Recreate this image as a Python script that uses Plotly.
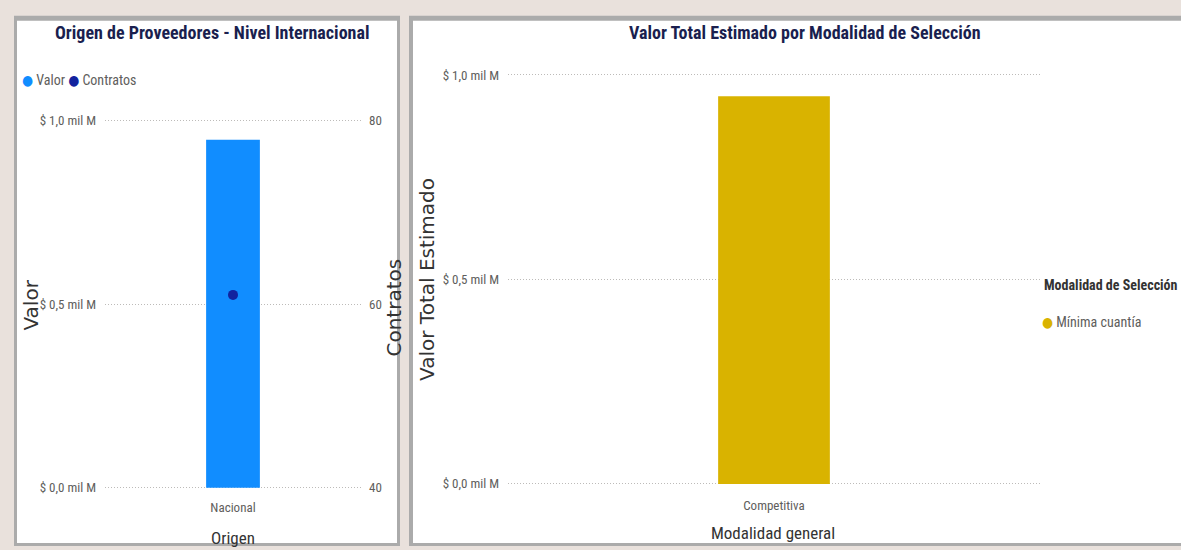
import plotly.graph_objects as go

W, H = 1181, 550

# ---------------- data ----------------
origen_cats = ["Nacional"]
origen_valor = [0.947e9]
origen_contratos = [61]

modalidad_cats = ["Competitiva"]
modalidad_valor = [0.948e9]
modalidad_series = ["Mínima cuantía"]

valor_tickvals = [0, 0.5e9, 1.0e9]
valor_ticktext = ["$ 0,0 mil M", "$ 0,5 mil M", "$ 1,0 mil M"]
contratos_tickvals = [40, 60, 80]
contratos_ticktext = ["40", "60", "80"]

# ---------------- styles ----------------
NARROW = "Roboto Condensed, DejaVu Sans Condensed, sans-serif"
WIDE = "DejaVu Sans, Open Sans, sans-serif"
BLUE = "#118DFF"
NAVY = "#12239E"
GOLD = "#D9B300"
TICK = "#605E5C"
TITLE = "#1A1F4F"
AXT = "#333333"
GRID = "#BDBBB9"
BG = "#E9E1DC"
BORDER = "#ABABAB"
DASH = "1px,2px"
PAD = 0.01  # small range padding so edge gridlines stay visible


def px(x):
    return x / W


def py(y):
    return 1 - y / H


def vdomain(y_zero, y_top):
    span = y_zero - y_top
    return [py(y_zero + PAD * span), py(y_top - PAD * span)]


def prange(lo, hi):
    d = hi - lo
    return [lo - PAD * d, hi + PAD * d]


fig = go.Figure()

fig.add_trace(go.Bar(
    x=origen_cats, y=origen_valor, name="Valor",
    marker=dict(color=BLUE, line=dict(width=0)), xaxis="x", yaxis="y", showlegend=False,
))
fig.add_trace(go.Scatter(
    x=origen_cats, y=origen_contratos, name="Contratos", mode="markers",
    marker=dict(color=NAVY, size=10), xaxis="x", yaxis="y2", showlegend=False,
))
fig.add_trace(go.Bar(
    x=modalidad_cats, y=modalidad_valor, name=modalidad_series[0],
    marker=dict(color=GOLD, line=dict(width=0)), xaxis="x2", yaxis="y3", showlegend=False,
))

tickfont = dict(family=NARROW, size=13, color=TICK)
xtickfont = dict(family=NARROW, size=13, color=TICK)

shapes = [
    # left panel
    dict(type="rect", xref="paper", yref="paper", x0=px(14), x1=px(400), y0=py(550), y1=py(12),
         fillcolor=BORDER, line=dict(width=0), layer="below"),
    dict(type="rect", xref="paper", yref="paper", x0=px(17), x1=px(397), y0=py(547), y1=py(17),
         fillcolor="white", line=dict(width=0), layer="below"),
    # right panel
    dict(type="rect", xref="paper", yref="paper", x0=px(409), x1=px(1181), y0=py(550), y1=py(12),
         fillcolor=BORDER, line=dict(width=0), layer="below"),
    dict(type="rect", xref="paper", yref="paper", x0=px(413), x1=px(1181), y0=py(547), y1=py(17),
         fillcolor="white", line=dict(width=0), layer="below"),
]

annotations = [
    dict(text="<b>Origen de Proveedores - Nivel Internacional</b>", x=px(212), y=py(29),
         font=dict(family=NARROW, size=18, color=TITLE)),
    dict(text="<b>Valor Total Estimado por Modalidad de Selección</b>", x=px(805), y=py(29),
         font=dict(family=NARROW, size=18, color=TITLE)),
    dict(text=f"<span style='color:{BLUE}'>●</span> Valor <span style='color:{NAVY}'>●</span> Contratos",
         x=px(20), y=py(77), xanchor="left", font=dict(family=NARROW, size=14, color=TICK)),
    dict(text="Valor", x=px(31), y=py(306), textangle=-90, font=dict(family=WIDE, size=20, color=AXT)),
    dict(text="Contratos", x=px(394), y=py(308), textangle=-90, font=dict(family=WIDE, size=20, color=AXT)),
    dict(text="Origen", x=px(233), y=py(542), font=dict(family=NARROW, size=17, color=AXT)),
    dict(text="Valor Total Estimado", x=px(427), y=py(280), textangle=-90,
         font=dict(family=WIDE, size=20, color=AXT)),
    dict(text="Modalidad general", x=px(773), y=py(537), font=dict(family=NARROW, size=17, color=AXT)),
    dict(text="<b>Modalidad de Selección</b>", x=px(1042), y=py(285), xanchor="left",
         font=dict(family=NARROW, size=14, color=AXT)),
    dict(text=f"<span style='color:{GOLD}'>●</span> {modalidad_series[0]}", x=px(1040), y=py(323), xanchor="left",
         font=dict(family=NARROW, size=14, color=TICK)),
]
for a in annotations:
    a.update(xref="paper", yref="paper", showarrow=False)
    a.setdefault("xanchor", "center")
    a.setdefault("yanchor", "middle")

fig.update_layout(
    width=W, height=H,
    margin=dict(l=0, r=0, t=0, b=0),
    paper_bgcolor=BG, plot_bgcolor="rgba(0,0,0,0)",
    bargap=0.79,
    shapes=shapes, annotations=annotations,
    xaxis=dict(domain=[px(105), px(361)], anchor="y", type="category", range=[-0.5, 0.5],
               showgrid=False, showline=False, zeroline=False, ticks="", tickfont=xtickfont,
               ticklabelstandoff=6),
    yaxis=dict(domain=vdomain(491, 118), anchor="x", range=prange(0, 1.0e9), tickvals=valor_tickvals,
               ticktext=valor_ticktext, showgrid=True, gridcolor=GRID, griddash=DASH, gridwidth=1,
               zeroline=False, showline=False, ticks="", tickfont=tickfont, ticklabelstandoff=8),
    yaxis2=dict(overlaying="y", anchor="x", side="right", range=prange(40, 80), tickvals=contratos_tickvals,
                ticktext=contratos_ticktext, showgrid=False, zeroline=False, showline=False, ticks="",
                tickfont=tickfont, ticklabelstandoff=7),
    xaxis2=dict(domain=[px(508), px(1040)], anchor="y3", type="category", range=[-0.5, 0.5],
                showgrid=False, showline=False, zeroline=False, ticks="",
                tickfont=xtickfont, ticklabelstandoff=8),
    yaxis3=dict(domain=vdomain(487, 72), anchor="x2", range=prange(0, 1.0e9), tickvals=valor_tickvals,
                ticktext=valor_ticktext, showgrid=True, gridcolor=GRID, griddash=DASH, gridwidth=1,
                zeroline=False, showline=False, ticks="", tickfont=tickfont, ticklabelstandoff=8),
)

fig.write_html("out.html", config={"displayModeBar": False},
               post_script="document.body.style.margin='0px';")
